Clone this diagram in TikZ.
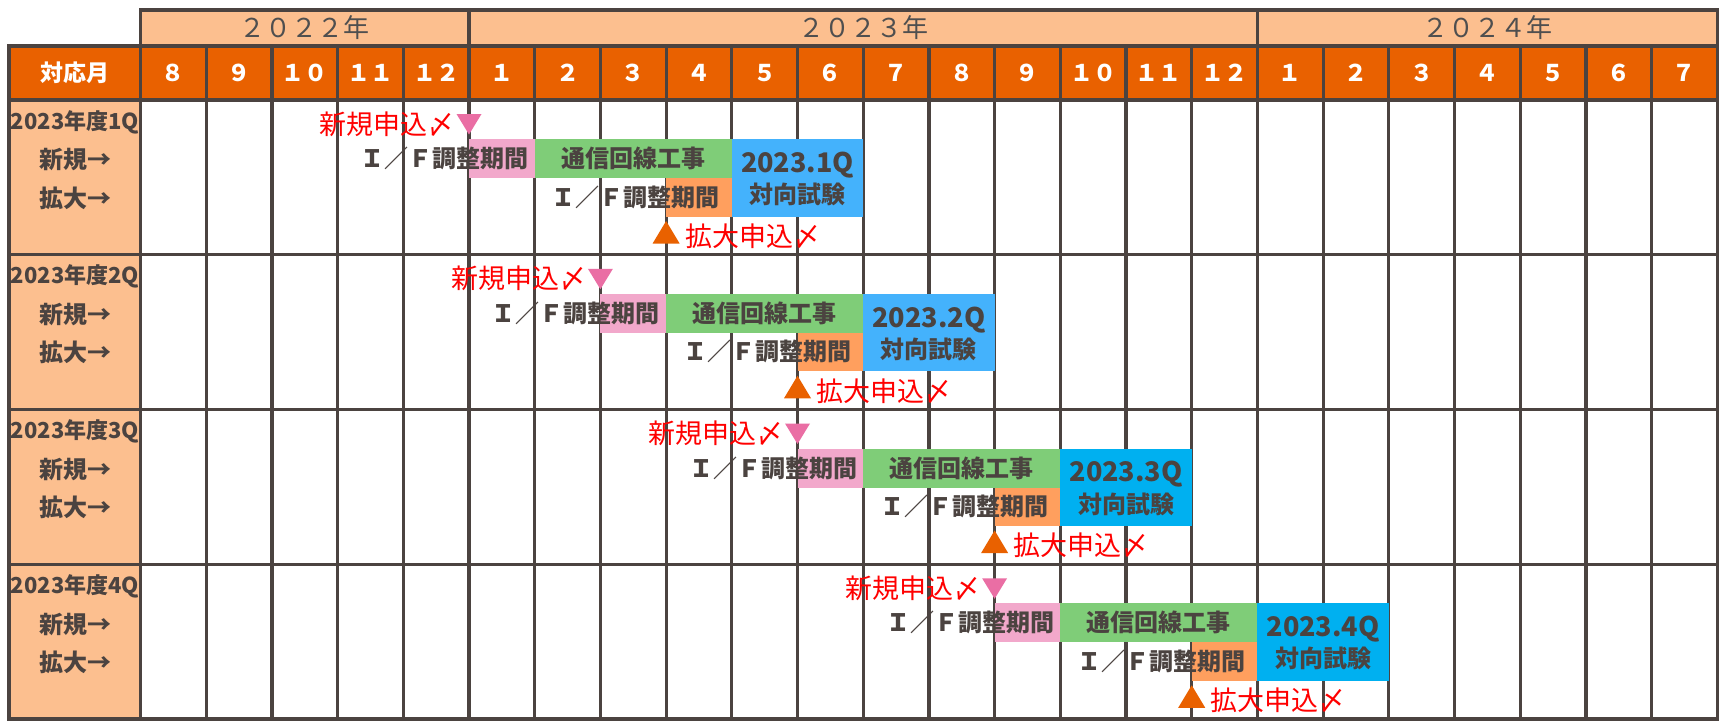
\documentclass[tikz,border=0pt]{standalone}
\usepackage{fontspec}
\setmainfont{Noto Sans CJK JP}
\definecolor{gridc}{HTML}{4B4340}
\definecolor{hdr}{HTML}{E96100}
\definecolor{lite}{HTML}{FCBF8F}
\definecolor{pinkbar}{HTML}{F2A8CB}
\definecolor{pinktri}{HTML}{EA6EA4}
\definecolor{greenbar}{HTML}{7FCD78}
\definecolor{orangebar}{HTML}{FF9F5E}
\definecolor{blueA}{HTML}{44B2FC}
\definecolor{blueB}{HTML}{00B0F0}
\definecolor{txtgray}{HTML}{4B4340}
\definecolor{yeargray}{HTML}{4F4F4F}
\definecolor{redtext}{HTML}{FF0000}
\tikzset{
  gline/.style={draw=gridc, line width=3.2pt, line cap=rect},
  graytxt/.style={inner sep=0pt, text=txtgray, font=\bfseries\fontsize{24}{28}\selectfont},
  qtxt/.style={inner sep=0pt, text=txtgray, font=\bfseries\fontsize{22}{26}\selectfont},
  bigtxt/.style={inner sep=0pt, text=txtgray, font=\bfseries\fontsize{27}{30}\selectfont},
  redtxt/.style={inner sep=0pt, text=redtext, font=\fontsize{27}{30}\selectfont},
  hdrtxt/.style={inner sep=0pt, text=white, font=\bfseries\fontsize{23}{26}\selectfont},
  yeartxt/.style={inner sep=0pt, text=yeargray, font=\fontsize{26}{30}\selectfont}
}
\begin{document}
\begin{tikzpicture}[x=1pt,y=-1pt]
\useasboundingbox (0,0) rectangle (1723,725);
\fill[white] (0,0) rectangle (1723,725);
% background fills
\fill[lite] (140.5,10) rectangle (1717.3,46);
\fill[hdr] (9,46) rectangle (1717.3,100);
\fill[lite] (9,100) rectangle (140.5,719);
% grid
\draw[gline] (140.5,10) -- (1717.3,10);
\draw[gline] (9,46) -- (1717.3,46);
\foreach \i in {0,...,4} {
  \pgfmathsetmacro\yy{100+154.75*\i}
  \draw[gline] (9,\yy) -- (1717.3,\yy);
}
\draw[gline] (9,46) -- (9,719);
\draw[gline] (140.5,10) -- (140.5,719);
\draw[gline] (1717.3,10) -- (1717.3,719);
\foreach \k in {1,...,23} {
  \pgfmathsetmacro\xx{140.5+65.7*\k}
  \draw[gline] (\xx,46) -- (\xx,719);
}
\foreach \k in {5,17} {
  \pgfmathsetmacro\xx{140.5+65.7*\k}
  \draw[gline] (\xx,10) -- (\xx,46);
}
% year labels
\node[yeartxt] (y2022) at (304.75,28) {２０２２年};
\node[yeartxt] (y2023) at ({140.5+65.7*11},28) {２０２３年};
\node[yeartxt] (y2024) at ({140.5+65.7*20.5},28) {２０２４年};
% header
\node[hdrtxt] (hdrlbl) at (75,73) {対応月};
\foreach \k/\m in {0/８,1/９,2/１０,3/１１,4/１２,5/１,6/２,7/３,8/４,9/５,10/６,11/７,12/８,13/９,14/１０,15/１１,16/１２,17/１,18/２,19/３,20/４,21/５,22/６,23/７} {
  \node[hdrtxt] (m\k) at ({140.5+65.7*(\k+0.5)},73) {\m};
}
% rows
\foreach \i/\b/\q/\bl in {0/5/1/blueA,1/7/2/blueA,2/10/3/blueB,3/13/4/blueB} {
  \pgfmathsetmacro\R{100+154.75*\i}
  \pgfmathsetmacro\xa{140.5+65.7*\b}
  \pgfmathsetmacro\xb{140.5+65.7*(\b+1)}
  \pgfmathsetmacro\xc{140.5+65.7*(\b+3)}
  \pgfmathsetmacro\xd{140.5+65.7*(\b+4)}
  \pgfmathsetmacro\xe{140.5+65.7*(\b+6)}
  % left labels
  \node[qtxt] (lq\i) at (75,{\R+22}) {2023年度\q Q};
  \node[graytxt] (ln\i) at (75,{\R+60}) {新規→};
  \node[graytxt] (le\i) at (75,{\R+98}) {拡大→};
  % bars
  \fill[pinkbar] (\xa,{\R+39}) rectangle (\xb,{\R+78});
  \fill[greenbar] (\xb,{\R+39}) rectangle (\xd,{\R+78});
  \fill[orangebar] (\xc,{\R+78}) rectangle (\xd,{\R+116.5});
  \fill[\bl] (\xd,{\R+39}) rectangle (\xe,{\R+116.5});
  % texts
  \node[redtxt, anchor=east] (sa\i) at ({\xa-14},{\R+24}) {新規申込〆};
  \node[graytxt, anchor=east] (ifa\i) at ({\xb-6},{\R+58.5}) {Ｉ／Ｆ調整期間};
  \node[graytxt] (gw\i) at ({(\xb+\xd)/2},{\R+58.5}) {通信回線工事};
  \node[graytxt, anchor=east] (ifb\i) at ({\xd-12},{\R+97}) {Ｉ／Ｆ調整期間};
  \node[bigtxt] (bq\i) at ({(\xd+\xe)/2},{\R+65}) {2023.\q Q};
  \node[graytxt] (bt\i) at ({(\xd+\xe)/2},{\R+94.5}) {対向試験};
  \node[redtxt, anchor=west] (ka\i) at ({\xc+19},{\R+136}) {拡大申込〆};
  % triangles
  \fill[pinktri] ({\xa-12.5},{\R+14}) -- ({\xa+12.5},{\R+14}) -- (\xa,{\R+34.5}) -- cycle;
  \fill[hdr] ({\xc-13.5},{\R+143.5}) -- ({\xc+13.5},{\R+143.5}) -- (\xc,{\R+121}) -- cycle;
}
\end{tikzpicture}
\end{document}
